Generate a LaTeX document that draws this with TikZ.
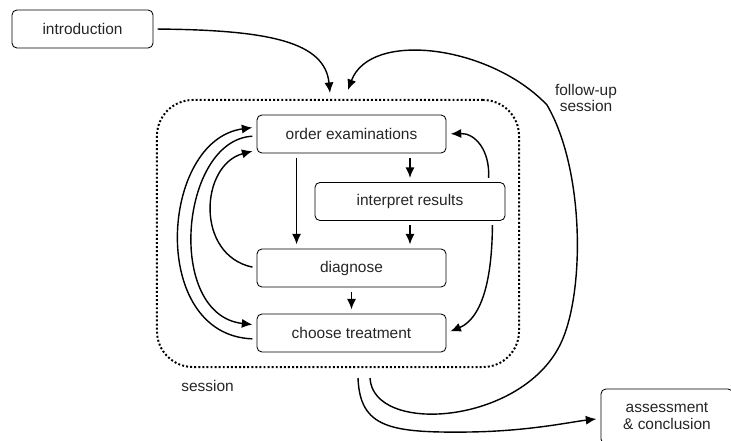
\documentclass[tikz,border=0pt]{standalone}
\usepackage{fontspec}
\setmainfont{Liberation Sans}
\usepackage{tikz}
\usetikzlibrary{arrows.meta}

\begin{document}
\begin{tikzpicture}[
		x=0.025cm, y=-0.025cm,
		stage/.style={draw,rounded corners=3.5pt,line width=0.6pt,inner sep=0pt,
			minimum width=4.725cm,minimum height=0.95cm,text=black!85,align=center},
		sessionbox/.style={draw,rounded corners=0.9cm,line width=1.4pt,
			dash pattern=on 1.4pt off 1.5pt,minimum width=9.05cm,minimum height=6.675cm,inner sep=0pt},
		lbl/.style={text=black!85,align=center},
		flow/.style={->,line width=1pt,shorten <=3pt,shorten >=3pt},
		>={Latex[length=7.5pt,width=6.5pt]},
		font=\fontsize{11}{12}\selectfont]
	\useasboundingbox (0,0) rectangle (731,441);
	\clip (0,0) rectangle (731,441);
	%% define boxes
	\node (session) at (338,233.5) [sessionbox] {};
	\node (intro) at (82.5,29) [stage, minimum width=3.525cm] {introduction};
	\node (order) at (351.5,134) [stage] {order examinations};
	\node (interp) at (410,201.5) [stage, minimum width=4.75cm] {interpret results};
	\node (diag) at (351.5,268) [stage] {diagnose};
	\node (choose) at (351.5,333) [stage] {choose treatment};
	\node (assess) at (667,416.5) [stage, minimum width=3.3cm, minimum height=1.375cm] {assessment\\\& conclusion};
	\node (sesslbl) at (207.5,386) [lbl] {session};
	\node (fulbl) at (586,98) [lbl] {follow-up\\session};
	%% define ends on the session frame
	\coordinate (in1) at (330,93);
	\coordinate (in2) at (348,90);
	\coordinate (out1) at (358,378);
	\coordinate (out2) at (370,378);
	%% define arrows
	\draw[flow,shorten >=0pt] (intro.east) .. controls (270,30) and (325,42) .. (in1);
	\draw[flow,shorten <=0pt,shorten >=0pt] (out2) .. controls (373,435) and (520,425) .. (560,345)
		.. controls (585,295) and (585,170) .. (547,105) .. controls (490,45) and (370,30) .. (in2);
	\draw[flow,shorten <=0pt] (out1) .. controls (360,428) and (390,433) .. (470,432)
		.. controls (530,431) and (570,422) .. ([yshift=-0.05cm]assess.west);
	\draw[flow] ([xshift=1cm]order.south west) -- ([xshift=1cm]diag.north west);
	\draw[flow] (interp.north |- order.south) -- (interp.north);
	\draw[flow] (interp.south) -- (interp.south |- diag.north);
	\draw[flow] (diag.south) -- (choose.north);
	\draw[flow] ([xshift=-0.425cm]interp.north east) .. controls (490,150) and (475,133) .. (order.east);
	\draw[flow] ([xshift=-0.325cm]interp.south east) .. controls (492,290) and (478,320) .. (choose.east);
	\draw[flow] ([yshift=-0.15cm]choose.west) .. controls (148,335) and (160,140) .. ([yshift=0.175cm]order.west);
	\draw[flow] ([yshift=-0.05cm]order.west) .. controls (180,140) and (165,315) .. ([yshift=0.2cm]choose.west);
	\draw[flow] (diag.west) .. controls (195,255) and (200,165) .. ([yshift=-0.4cm]order.west);
\end{tikzpicture}
\end{document}
